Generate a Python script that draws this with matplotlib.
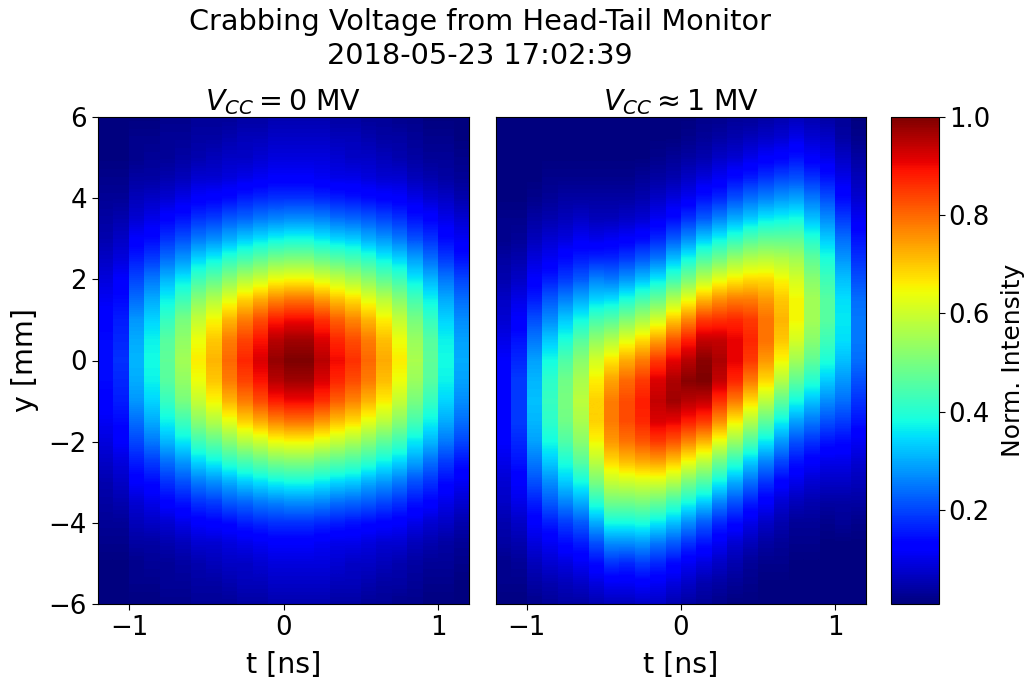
import numpy as np
import matplotlib
matplotlib.use('Agg')
import matplotlib.pyplot as plt

# y steps for the rows below, top row first
y_rows = [6, 5.5, 5, 4.5, 4, 3.5, 3, 2.5, 2, 1.5, 1, 0.5, 0, -0.5, -1, -1.5, -2, -2.5, -3, -3.5, -4, -4.5, -5, -5.5, -6]
t_edges = [-1.2, -1.1, -1.0, -0.9, -0.8, -0.7, -0.6, -0.5, -0.4, -0.3, -0.2, -0.1, 0.0, 0.1, 0.2, 0.3, 0.4, 0.5, 0.6, 0.7, 0.8, 0.9, 1.0, 1.1, 1.2]

# VCC = 0 MV, one line per row
off_rows = [
    [.01, .01, .01, .01, .02, .02, .03, .03, .03, .04, .04, .05, .05, .05, .05, .04, .04, .03, .03, .02, .02, .01, .01, .01],
    [.01, .01, .02, .02, .03, .03, .04, .04, .05, .06, .06, .07, .07, .07, .07, .06, .06, .05, .04, .04, .03, .02, .02, .01],
    [.01, .01, .02, .03, .03, .04, .05, .06, .07, .07, .08, .09, .09, .09, .09, .08, .07, .07, .06, .05, .04, .03, .03, .02],
    [.02, .02, .04, .04, .05, .06, .08, .08, .09, .10, .11, .12, .12, .12, .11, .10, .10, .09, .08, .08, .06, .05, .04, .03],
    [.03, .03, .06, .07, .08, .10, .12, .13, .14, .16, .17, .18, .18, .18, .17, .16, .15, .14, .13, .12, .10, .08, .07, .05],
    [.04, .05, .08, .10, .13, .15, .18, .19, .22, .23, .25, .26, .27, .27, .26, .24, .23, .22, .20, .18, .15, .13, .10, .08],
    [.05, .07, .12, .14, .18, .21, .25, .27, .30, .33, .35, .37, .38, .38, .36, .34, .33, .30, .28, .25, .21, .18, .14, .11],
    [.07, .09, .16, .19, .24, .28, .34, .37, .41, .44, .47, .50, .51, .51, .48, .46, .44, .41, .37, .34, .29, .24, .19, .15],
    [.09, .12, .20, .25, .31, .36, .43, .47, .52, .57, .60, .64, .65, .65, .62, .59, .56, .52, .47, .43, .36, .31, .25, .20],
    [.11, .14, .24, .30, .37, .43, .52, .57, .63, .69, .73, .77, .79, .79, .75, .71, .68, .63, .58, .52, .44, .37, .30, .24],
    [.13, .16, .28, .34, .42, .50, .59, .65, .72, .78, .83, .88, .90, .90, .86, .81, .77, .72, .66, .59, .50, .42, .34, .27],
    [.14, .17, .30, .37, .46, .53, .64, .70, .78, .84, .89, .95, .97, .97, .92, .87, .83, .78, .71, .64, .54, .46, .37, .29],
    [.14, .18, .31, .38, .47, .55, .66, .72, .80, .87, .92, .98, 1.0, 1.0, .95, .90, .86, .80, .73, .66, .56, .47, .38, .30],
    [.14, .17, .30, .37, .46, .53, .64, .70, .78, .84, .89, .95, .97, .97, .92, .87, .83, .78, .71, .64, .54, .46, .37, .29],
    [.13, .16, .28, .34, .42, .50, .59, .65, .72, .78, .83, .88, .90, .90, .86, .81, .77, .72, .66, .59, .50, .42, .34, .27],
    [.11, .14, .24, .30, .37, .43, .52, .57, .63, .69, .73, .77, .79, .79, .75, .71, .68, .63, .58, .52, .44, .37, .30, .24],
    [.09, .12, .20, .25, .31, .36, .43, .47, .52, .57, .60, .64, .65, .65, .62, .59, .56, .52, .47, .43, .36, .31, .25, .20],
    [.07, .09, .16, .19, .24, .28, .34, .37, .41, .44, .47, .50, .51, .51, .48, .46, .44, .41, .37, .34, .29, .24, .19, .15],
    [.05, .07, .12, .14, .18, .21, .25, .27, .30, .33, .35, .37, .38, .38, .36, .34, .33, .30, .28, .25, .21, .18, .14, .11],
    [.04, .05, .08, .10, .13, .15, .18, .19, .22, .23, .25, .26, .27, .27, .26, .24, .23, .22, .20, .18, .15, .13, .10, .08],
    [.03, .03, .06, .07, .08, .10, .12, .13, .14, .16, .17, .18, .18, .18, .17, .16, .15, .14, .13, .12, .10, .08, .07, .05],
    [.02, .02, .04, .04, .05, .06, .08, .08, .09, .10, .11, .12, .12, .12, .11, .10, .10, .09, .08, .08, .06, .05, .04, .03],
    [.01, .01, .02, .03, .03, .04, .05, .06, .07, .07, .08, .09, .09, .09, .09, .08, .07, .07, .06, .05, .04, .03, .03, .02],
    [.01, .01, .02, .02, .03, .03, .04, .04, .05, .06, .06, .07, .07, .07, .07, .06, .06, .05, .04, .04, .03, .02, .02, .01],
    [.01, .01, .01, .01, .02, .02, .03, .03, .03, .04, .04, .05, .05, .05, .05, .04, .04, .03, .03, .02, .02, .01, .01, .01],
]

# VCC ~ 1 MV, one line per column (left to right), top of the column first
on_cols = [
    [.01, .01, .01, .01, .01, .02, .02, .04, .05, .07, .08, .10, .12, .13, .13, .13, .12, .10, .08, .07, .05, .04, .02, .02, .01],
    [.01, .01, .01, .01, .01, .02, .03, .05, .07, .10, .12, .15, .17, .19, .19, .19, .17, .15, .12, .10, .07, .05, .03, .02, .01],
    [.01, .01, .01, .01, .02, .04, .06, .09, .12, .16, .21, .25, .29, .31, .32, .31, .29, .25, .21, .16, .12, .09, .06, .04, .02],
    [.01, .01, .01, .02, .03, .05, .08, .11, .16, .22, .27, .33, .38, .41, .42, .41, .38, .33, .27, .22, .16, .11, .08, .05, .03],
    [.01, .01, .01, .02, .04, .06, .09, .14, .19, .26, .33, .39, .45, .49, .50, .49, .45, .39, .33, .26, .19, .14, .09, .06, .04],
    [.01, .01, .01, .02, .04, .07, .11, .16, .22, .30, .38, .46, .52, .56, .58, .56, .52, .46, .38, .30, .22, .16, .11, .07, .04],
    [.01, .01, .01, .02, .04, .06, .10, .17, .26, .34, .44, .53, .61, .66, .69, .69, .65, .58, .50, .40, .30, .21, .14, .09, .05],
    [.01, .01, .01, .02, .04, .06, .11, .17, .25, .35, .46, .57, .67, .74, .78, .78, .75, .68, .59, .49, .38, .27, .18, .11, .06],
    [.01, .01, .01, .02, .04, .07, .12, .19, .28, .39, .51, .63, .73, .80, .83, .83, .79, .71, .60, .49, .38, .27, .17, .11, .06],
    [.01, .01, .01, .03, .05, .08, .14, .22, .32, .44, .56, .68, .78, .85, .88, .87, .82, .73, .61, .50, .39, .28, .19, .12, .07],
    [.01, .01, .02, .04, .07, .11, .17, .25, .36, .48, .61, .74, .85, .92, .94, .92, .85, .74, .61, .48, .36, .25, .17, .11, .07],
    [.01, .01, .03, .05, .09, .14, .22, .32, .43, .57, .70, .82, .91, .96, .97, .91, .82, .70, .57, .43, .32, .22, .14, .09, .05],
    [.01, .02, .04, .07, .11, .18, .27, .38, .50, .64, .77, .88, .95, .99, .95, .88, .77, .64, .50, .38, .27, .18, .11, .07, .04],
    [.02, .03, .05, .09, .15, .22, .33, .45, .58, .72, .85, .94, .99, 1.0, .94, .85, .72, .58, .45, .33, .22, .15, .09, .05, .03],
    [.02, .04, .07, .11, .17, .26, .37, .49, .63, .76, .86, .94, .96, .94, .86, .76, .63, .49, .37, .26, .17, .11, .07, .04, .02],
    [.03, .05, .08, .14, .21, .30, .41, .54, .66, .78, .87, .91, .91, .87, .78, .66, .54, .41, .30, .21, .14, .08, .05, .03, .01],
    [.03, .06, .10, .16, .24, .33, .45, .57, .68, .78, .85, .87, .85, .78, .68, .57, .45, .33, .24, .16, .10, .06, .03, .02, .01],
    [.04, .07, .12, .18, .26, .36, .47, .58, .68, .75, .79, .79, .75, .68, .58, .47, .36, .26, .18, .12, .07, .04, .02, .01, .01],
    [.05, .08, .13, .20, .28, .37, .47, .57, .65, .70, .72, .70, .65, .57, .47, .37, .28, .20, .13, .08, .05, .03, .02, .01, .01],
    [.06, .10, .15, .21, .29, .38, .47, .55, .61, .65, .65, .61, .55, .47, .38, .29, .21, .15, .10, .06, .03, .02, .01, .01, .01],
    [.05, .08, .12, .18, .25, .32, .40, .47, .52, .55, .55, .52, .47, .40, .32, .25, .18, .12, .08, .05, .03, .02, .01, .01, .01],
    [.04, .07, .10, .15, .21, .27, .33, .39, .43, .46, .46, .43, .39, .33, .27, .21, .15, .10, .07, .04, .02, .01, .01, .01, .01],
    [.03, .04, .07, .10, .14, .19, .24, .28, .32, .35, .36, .35, .32, .28, .24, .19, .14, .10, .07, .04, .03, .01, .01, .01, .01],
    [.01, .02, .04, .06, .08, .11, .15, .18, .21, .24, .25, .25, .24, .21, .18, .15, .11, .08, .06, .04, .02, .01, .01, .01, .01],
]

vmin, vmax = 0.008, 1.0
W, H = 1026, 677
fs = 20.5
tick_fs = 18.7


def px_axes(fig, x0, x1, y0, y1):
    return fig.add_axes([x0 / W, 1 - y1 / H, (x1 - x0) / W, (y1 - y0) / H])


def draw_panel(ax, cols):
    # each slice is its own strip: blocky in t, smooth in y
    half = abs(y_rows[0] - y_rows[1]) / 2
    for i in range(len(t_edges) - 1):
        strip = np.array(cols[i]).reshape(-1, 1)
        im = ax.imshow(strip, cmap='jet', vmin=vmin, vmax=vmax, aspect='auto',
                       interpolation='bilinear', interpolation_stage='data',
                       extent=(t_edges[i], t_edges[i + 1], y_rows[-1] - half, y_rows[0] + half))
    ax.set_xlim(t_edges[0], t_edges[-1])
    ax.set_ylim(-6, 6)
    ax.set_xticks([-1, 0, 1])
    ax.set_xlabel('t [ns]', fontsize=fs, labelpad=7)
    ax.tick_params(labelsize=tick_fs, length=4, pad=4)
    return im


fig = plt.figure(figsize=(W / 100, H / 100), dpi=100)
ax1 = px_axes(fig, 98, 469, 117, 604)
ax2 = px_axes(fig, 496, 866, 117, 604)
cax = px_axes(fig, 891, 939, 117, 604)

draw_panel(ax1, np.array(off_rows).T)
im = draw_panel(ax2, np.array(on_cols))

ax1.set_yticks([-6, -4, -2, 0, 2, 4, 6])
ax1.set_ylabel('y [mm]', fontsize=fs, labelpad=7)
ax2.set_yticks([])
ax1.set_title(r'$V_{CC} = 0$ MV', fontsize=fs, pad=5)
ax2.set_title(r'$V_{CC} \approx 1$ MV', fontsize=fs, pad=5)

cb = fig.colorbar(im, cax=cax)
cb.set_ticks([0.2, 0.4, 0.6, 0.8, 1.0])
cb.ax.tick_params(labelsize=tick_fs, length=4, pad=3)
cb.set_label('Norm. Intensity', fontsize=18)
cb.ax.yaxis.set_label_coords(2.29, 0.5)

fig.text(480 / W, 1 - 39 / H, 'Crabbing Voltage from Head-Tail Monitor\n2018-05-23 17:02:39',
         fontsize=20.7, ha='center', va='center', linespacing=1.24)

fig.savefig('out.png', dpi=100)
